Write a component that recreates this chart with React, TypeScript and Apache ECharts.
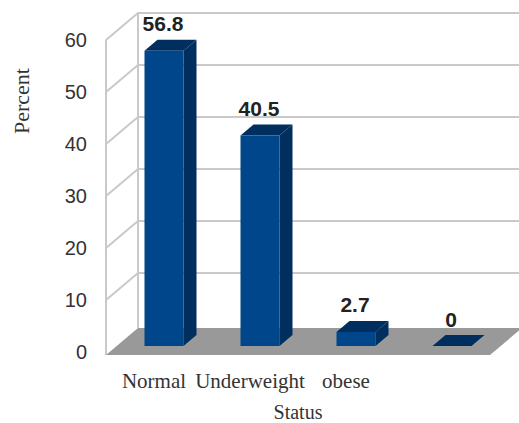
import React, { useEffect, useRef } from "react";
import * as echarts from "echarts";

const categories = ["Normal", "Underweight", "obese", ""];
const percentValues = [56.8, 40.5, 2.7, 0];
const percentLabels = ["56.8", "40.5", "2.7", "0"];
const wallTicks = [10, 20, 30, 40, 50, 60];

const WALL_DEPTH = [32, -27];
const BAR_INSET = [10, -6];
const BAR_DEPTH = [13, -11];
const BAR_WIDTH = 39;
const FRONT = "#00468a";
const SHADE = "#002f5f";
const WALL_LINE = "#c9c9c9";
const FLOOR = "#999999";
const SERIF = '"Liberation Serif", serif';
const SANS = '"Liberation Sans", sans-serif';

// Left wall rib and back wall gridline for one axis tick.
function renderWallLine(_: any, api: any) {
  const [cx, y] = api.coord([0, api.value(1)]);
  const left = cx - api.size([1, 0])[0] / 2;
  const backX = left + WALL_DEPTH[0];
  const backY = y + WALL_DEPTH[1];
  return {
    type: "polyline",
    shape: { points: [[left, y], [backX, backY], [522, backY]] },
    style: { stroke: WALL_LINE, lineWidth: 2, fill: "none" },
  };
}

// Vertical edges of the side and back walls.
function renderWallEdges(_: any, api: any) {
  const [cx, top] = api.coord([0, 60]);
  const bottom = api.coord([0, 0])[1];
  const left = cx - api.size([1, 0])[0] / 2;
  const edge = (dx: number, dy: number) => ({
    type: "line",
    shape: { x1: left + dx, y1: top + dy, x2: left + dx, y2: bottom + dy + 3 },
    style: { stroke: WALL_LINE, lineWidth: 2 },
  });
  return {
    type: "group",
    children: [edge(0, 0), edge(WALL_DEPTH[0], WALL_DEPTH[1])],
  };
}

// The grey floor, spanning the whole category band.
function renderFloor(_: any, api: any) {
  const [cx, y0] = api.coord([0, 0]);
  const band = api.size([1, 0])[0];
  const left = cx - band / 2;
  const right = left + band * categories.length;
  const y = y0 + 3;
  return {
    type: "polygon",
    shape: {
      points: [
        [left, y],
        [right, y],
        [right + WALL_DEPTH[0], y + WALL_DEPTH[1]],
        [left + WALL_DEPTH[0], y + WALL_DEPTH[1]],
      ],
    },
    style: { fill: FLOOR },
  };
}

// Extruded bar: front, side and top faces with the value above it.
function renderBar(params: any, api: any) {
  const [cx, topY] = api.coord([api.value(0), api.value(1)]);
  const baseY = api.coord([api.value(0), 0])[1];
  const x0 = cx + BAR_INSET[0] - BAR_WIDTH / 2;
  const x1 = x0 + BAR_WIDTH;
  const yb = baseY + BAR_INSET[1];
  const yt = topY + BAR_INSET[1];
  const [dx, dy] = BAR_DEPTH;
  return {
    type: "group",
    children: [
      {
        type: "polygon",
        shape: { points: [[x1, yb], [x1 + dx, yb + dy], [x1 + dx, yt + dy], [x1, yt]] },
        style: { fill: SHADE },
      },
      {
        type: "polygon",
        shape: { points: [[x0, yt], [x1, yt], [x1 + dx, yt + dy], [x0 + dx, yt + dy]] },
        style: { fill: SHADE },
      },
      {
        type: "rect",
        shape: { x: x0, y: yt, width: BAR_WIDTH, height: yb - yt },
        style: { fill: FRONT },
      },
      {
        type: "text",
        style: {
          x: x0 + BAR_WIDTH / 2 - 1,
          y: yt + dy - 16,
          text: percentLabels[params.dataIndex],
          fill: "#222222",
          font: `bold 21px ${SANS}`,
          align: "center",
          verticalAlign: "middle",
        },
      },
    ],
  };
}

export default function App() {
  const ref = useRef<HTMLDivElement>(null);

  useEffect(() => {
    const chart = echarts.init(ref.current!, undefined, { renderer: "svg" });
    chart.setOption({
      animation: false,
      backgroundColor: "#ffffff",
      grid: { left: 106, right: 29, top: 40, bottom: 71, outerBoundsMode: "none" },
      xAxis: {
        type: "category",
        data: categories,
        name: "Status",
        nameLocation: "middle",
        nameGap: 50,
        nameTextStyle: { fontFamily: SERIF, fontSize: 20, color: "#333333" },
        axisLine: { show: false },
        axisTick: { show: false },
        axisLabel: {
          interval: 0,
          margin: 18,
          fontFamily: SERIF,
          fontSize: 21,
          color: "#333333",
        },
      },
      yAxis: {
        type: "value",
        min: 0,
        max: 60,
        interval: 10,
        axisLine: { show: false },
        axisTick: { show: false },
        splitLine: { show: false },
        axisLabel: { margin: 19, fontFamily: SANS, fontSize: 20, color: "#333333" },
      },
      graphic: [
        {
          type: "text",
          x: 21,
          y: 101,
          rotation: Math.PI / 2,
          style: {
            text: "Percent",
            font: `22px ${SERIF}`,
            fill: "#333333",
            align: "center",
            verticalAlign: "middle",
          },
        },
      ],
      series: [
        {
          type: "custom",
          clip: false,
          z: 1,
          renderItem: renderWallLine,
          data: wallTicks.map((t) => [0, t]),
          encode: { x: 0, y: 1 },
          silent: true,
        },
        {
          type: "custom",
          clip: false,
          z: 2,
          renderItem: renderWallEdges,
          data: [[0, 60]],
          encode: { x: 0, y: 1 },
          silent: true,
        },
        {
          type: "custom",
          clip: false,
          z: 3,
          renderItem: renderFloor,
          data: [[0, 0]],
          encode: { x: 0, y: 1 },
          silent: true,
        },
        {
          type: "custom",
          clip: false,
          z: 4,
          renderItem: renderBar,
          data: percentValues.map((v, i) => [i, v]),
          encode: { x: 0, y: 1 },
        },
      ],
    });
    return () => chart.dispose();
  }, []);

  return (
    <div
      ref={ref}
      style={{ position: "absolute", left: 0, top: 0, width: 519, height: 423 }}
    />
  );
}
